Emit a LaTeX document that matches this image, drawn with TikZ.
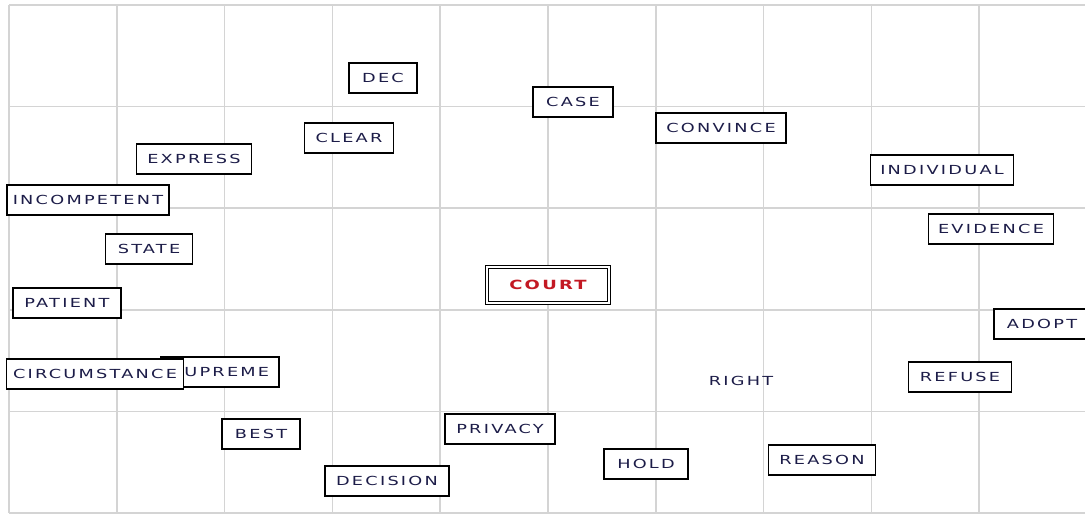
\documentclass[tikz,border=0pt]{standalone}
\usepackage{fontspec}
\newfontfamily\wordfont[LetterSpace=18, FakeStretch=1.42]{DejaVu Sans}
\definecolor{wordink}{RGB}{28,28,72}
\definecolor{gridgray}{RGB}{212,212,212}
\definecolor{courtred}{RGB}{195,25,35}
\tikzset{
  word/.style={draw=black, line width=1.1pt, fill=white, text=wordink,
    font=\wordfont\fontsize{7.1}{8}\selectfont, minimum height=0.6cm,
    inner xsep=0.05cm, minimum width=#1*0.02cm},
  word/.default=0,
  bare/.style={text=wordink, font=\wordfont\fontsize{7.1}{8}\selectfont},
  centre/.style={word=#1, double=white, double distance=1.2pt, line width=0.8pt,
    text=courtred, font=\wordfont\bfseries\fontsize{7.2}{8}\selectfont,
    minimum height=0.72cm}
}
\begin{document}
\begin{tikzpicture}[x=0.02cm, y=-0.02cm]
    \useasboundingbox (0,0) rectangle (1085,515);
    \fill[white] (0,0) rectangle (1085,515);
    % grid
    \foreach \i in {0,...,9}
        \draw[gridgray, line width=1pt] ({9+107.8*\i},5) -- ({9+107.8*\i},513);
    \foreach \j in {0,...,5}
        \draw[gridgray, line width=1pt] (9,{5+101.6*\j}) -- (1085,{5+101.6*\j});
    % words
    \node[word=68] (dec) at (383,78) {DEC};
    \node[word=80] (case) at (573,102) {CASE};
    \node[word=130] (convince) at (721,128) {CONVINCE};
    \node[word=89] (clear) at (349,138) {CLEAR};
    \node[word=115] (express) at (194,159) {EXPRESS};
    \node[word=143] (individual) at (942,170) {INDIVIDUAL};
    \node[word=162] (incompetent) at (88,200) {INCOMPETENT};
    \node[word=125] (evidence) at (991,229) {EVIDENCE};
    \node[word=87] (state) at (149,249) {STATE};
    \node[centre=122] (court) at (548,285) {COURT};
    \node[word=108] (patient) at (67,303) {PATIENT};
    \node[word=96] (adopt) at (1042,324) {ADOPT};
    \node[word=118] (supreme) at (220,372) {SUPREME};
    \node[word=177] (circumstance) at (95,374) {CIRCUMSTANCE};
    \node[word=103] (refuse) at (960,377) {REFUSE};
    \node[bare] (right) at (741,381) {RIGHT};
    \node[word=110] (privacy) at (500,429) {PRIVACY};
    \node[word=78] (best) at (261,434) {BEST};
    \node[word=107] (reason) at (822,460) {REASON};
    \node[word=84] (hold) at (646,464) {HOLD};
    \node[word=124] (decision) at (387,481) {DECISION};
\end{tikzpicture}
\end{document}
